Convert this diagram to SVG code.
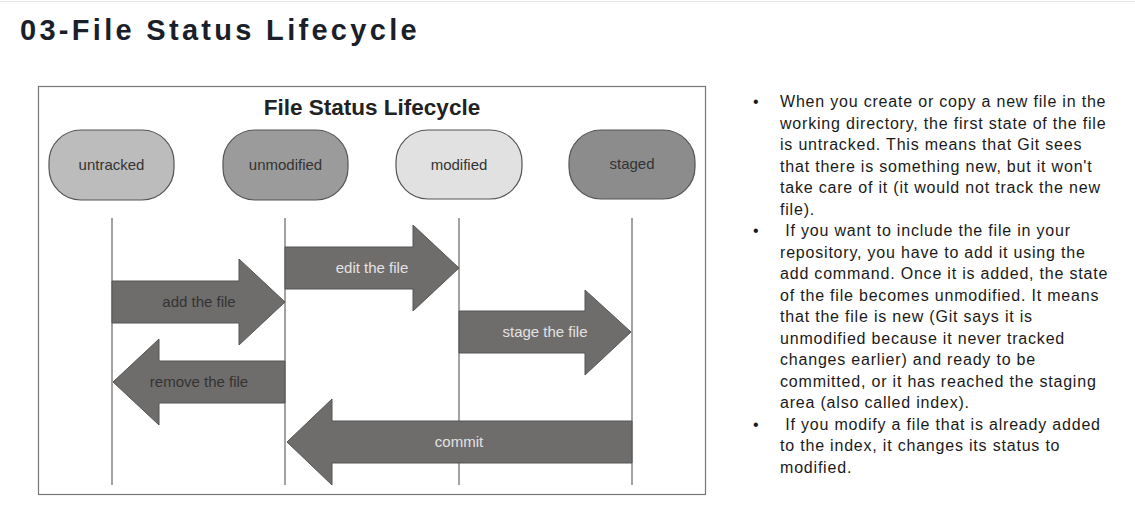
<svg xmlns="http://www.w3.org/2000/svg" width="1135" height="515" viewBox="0 0 1135 515">
<style>
.node{stroke:#555;stroke-width:1.2}
.nl{font-family:"Liberation Sans",Arial,sans-serif;font-size:15px;fill:#333;text-anchor:middle}
.arr{fill:#6f6d6c;stroke:#555;stroke-width:1}
.al{font-family:"Liberation Sans",Arial,sans-serif;font-size:15px;text-anchor:middle}
.dk{fill:#333}
.lt{fill:#e2e2e2}
.vl{stroke:#666;stroke-width:1.2}
.bt{font-family:"Liberation Sans",Arial,sans-serif;font-size:16px;fill:#1a1a1a;letter-spacing:0.8px}
</style>
<rect x="0" y="0" width="1135" height="515" fill="#fff"/>
<line x1="0" y1="1.5" x2="1135" y2="1.5" stroke="#e6e6e6" stroke-width="1"/>
<text x="20" y="40" font-family="Liberation Sans,Arial,sans-serif" font-weight="bold" font-size="29" letter-spacing="3.3" fill="#1b1f2a">03-File Status Lifecycle</text>
<rect x="38.5" y="86.5" width="667" height="408" fill="none" stroke="#777" stroke-width="1.2"/>
<text x="372" y="115" font-family="Liberation Sans,Arial,sans-serif" font-weight="bold" font-size="22.5" text-anchor="middle" fill="#222">File Status Lifecycle</text>
<g id="connectors">
<line class="vl" x1="112" y1="218" x2="112" y2="485"/>
<line class="vl" x1="285" y1="218" x2="285" y2="485"/>
<line class="vl" x1="459" y1="218" x2="459" y2="485"/>
<line class="vl" x1="632" y1="218" x2="632" y2="485"/>
<g id="add">
<polygon class="arr" points="112,281 239,281 239,259 285,302 239,345 239,323 112,323"/>
<text class="al dk" x="199" y="307">add the file</text>
</g>
<g id="edit">
<polygon class="arr" points="285,247 413,247 413,225 459,268 413,311 413,289 285,289"/>
<text class="al lt" x="372" y="273">edit the file</text>
</g>
<g id="remove">
<polygon class="arr" points="285,361 159,361 159,339 113,382 159,425 159,403 285,403"/>
<text class="al dk" x="199" y="387">remove the file</text>
</g>
<g id="stage">
<polygon class="arr" points="459,311 585,311 585,290 631,332 585,375 585,353 459,353"/>
<text class="al lt" x="545" y="337">stage the file</text>
</g>
<g id="commit">
<polygon class="arr" points="632,421 332,421 332,399 287,442 332,485 332,463 632,463"/>
<text class="al lt" x="459" y="447">commit</text>
</g>
</g>
<g id="untracked">
<rect class="node" x="49" y="130" width="125" height="70" rx="32" fill="#bcbcbc"/>
<text class="nl" x="111.5" y="170">untracked</text>
</g>
<g id="unmodified">
<rect class="node" x="223" y="130" width="125" height="70" rx="32" fill="#9b9b9b"/>
<text class="nl" x="285.5" y="170">unmodified</text>
</g>
<g id="modified">
<rect class="node" x="396" y="130" width="126" height="69" rx="32" fill="#e1e1e1"/>
<text class="nl" x="459" y="170">modified</text>
</g>
<g id="staged">
<rect class="node" x="569" y="130" width="126" height="69" rx="32" fill="#8c8c8c"/>
<text class="nl" x="632" y="169">staged</text>
</g>
<g id="notes" class="bt">
<text x="753" y="107">•</text>
<text x="780" y="107">When you create or copy a new file in the</text>
<text x="780" y="128.5">working directory, the first state of the file</text>
<text x="780" y="150">is untracked. This means that Git sees</text>
<text x="780" y="171.5">that there is something new, but it won't</text>
<text x="780" y="193">take care of it (it would not track the new</text>
<text x="780" y="214.5">file).</text>
<text x="753" y="236">•</text>
<text x="780" y="236" xml:space="preserve"> If you want to include the file in your</text>
<text x="780" y="257.5">repository, you have to add it using the</text>
<text x="780" y="279">add command. Once it is added, the state</text>
<text x="780" y="300.5">of the file becomes unmodified. It means</text>
<text x="780" y="322">that the file is new (Git says it is</text>
<text x="780" y="343.5">unmodified because it never tracked</text>
<text x="780" y="365">changes earlier) and ready to be</text>
<text x="780" y="386.5">committed, or it has reached the staging</text>
<text x="780" y="408">area (also called index).</text>
<text x="753" y="429.5">•</text>
<text x="780" y="429.5" xml:space="preserve"> If you modify a file that is already added</text>
<text x="780" y="451">to the index, it changes its status to</text>
<text x="780" y="472.5">modified.</text>
</g>
</svg>
